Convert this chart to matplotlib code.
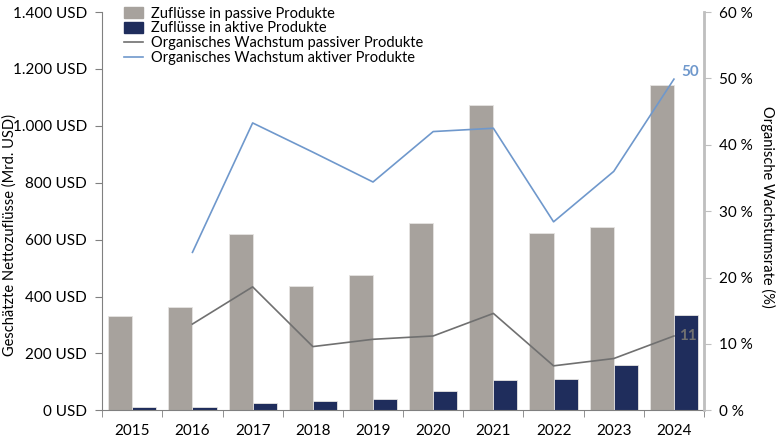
import numpy as np
import matplotlib.pyplot as plt
from matplotlib.patches import Patch
from matplotlib.lines import Line2D
from matplotlib.ticker import FuncFormatter

plt.rcParams['font.family'] = ['Lato', 'DejaVu Sans']

# data
years = ['2015', '2016', '2017', '2018', '2019', '2020', '2021', '2022', '2023', '2024']
passive_flows = [331, 363, 620, 436, 475, 657, 1075, 624, 644, 1143]
active_flows = [10, 10, 25, 33, 38, 69, 105, 110, 160, 335]
passive_growth = [np.nan, 13.0, 18.6, 9.6, 10.7, 11.2, 14.6, 6.7, 7.8, 11.2]
active_growth = [np.nan, 23.8, 43.3, 38.9, 34.4, 42.0, 42.5, 28.4, 36.0, 49.9]

c_passive = '#a7a29d'
c_active = '#1f2d5c'
c_pline = '#707070'
c_aline = '#6f98cc'

fig = plt.figure(figsize=(7.8, 4.4), dpi=100)
ax = fig.add_axes([0.131, 0.0675, 0.7716, 0.905])
ax2 = ax.twinx()

x = np.arange(len(years))
w = 0.4
ax.bar(x - w/2, passive_flows, w, color=c_passive, edgecolor='#e6e4e2', linewidth=0.6, zorder=2)
ax.bar(x + w/2, active_flows, w, color=c_active, edgecolor='#e6e4e2', linewidth=0.6, zorder=2)
ax.set_xlim(-0.5, len(years) - 0.5)
ax.set_ylim(0, 1400)
ax.set_yticks(np.arange(0, 1401, 200))
ax.yaxis.set_major_formatter(FuncFormatter(lambda v, p: f'{int(v):,} USD'.replace(',', '.')))
ax.set_xticks(x)
ax.set_xticklabels(years)
ax.set_xticks(np.arange(-0.5, len(years)), minor=True)
ax.tick_params(axis='x', which='major', length=0, pad=10, labelsize=11)
ax.tick_params(axis='x', which='minor', length=5, color='#808080')
ax.tick_params(axis='y', length=5, color='#808080', labelsize=11, pad=6)
ax.set_ylabel('Geschätzte Nettozuflüsse (Mrd. USD)', fontsize=10.5)
ax.yaxis.set_label_coords(-0.142, 0.44)

ax2.plot(x, passive_growth, color=c_pline, lw=1.2, zorder=3)
ax2.plot(x, active_growth, color=c_aline, lw=1.2, zorder=3)
ax2.set_ylim(0, 60)
ax2.set_yticks(np.arange(0, 61, 10))
ax2.yaxis.set_major_formatter(FuncFormatter(lambda v, p: f'{int(v)} %'))
ax2.tick_params(axis='y', length=5, color='#bfbfbf', labelsize=11, pad=6)
ax2.set_ylabel('Organische Wachstumsrate (%)', fontsize=10.5, rotation=270, va='center')
ax2.yaxis.set_label_coords(1.106, 0.51)

ax2.annotate(f'{active_growth[-1]:.0f}', (x[-1], active_growth[-1]), xytext=(5, 0),
             textcoords='offset points', color=c_aline, fontweight='bold', fontsize=11,
             va='bottom', ha='left')
ax2.annotate(f'{passive_growth[-1]:.0f}', (x[-1], passive_growth[-1]), xytext=(4, 0),
             textcoords='offset points', color=c_pline, fontweight='bold', fontsize=11,
             va='center', ha='left')

for a in (ax, ax2):
    a.spines['top'].set_visible(False)
ax.spines['left'].set_color('#808080')
ax.spines['bottom'].set_color('#808080')
ax2.spines['left'].set_visible(False)
ax2.spines['bottom'].set_visible(False)
ax2.spines['right'].set_color('#bfbfbf')
ax2.spines['right'].set_linewidth(2)

handles = [Patch(color=c_passive), Patch(color=c_active),
           Line2D([], [], color=c_pline, lw=1.2), Line2D([], [], color=c_aline, lw=1.2)]
labels = ['Zuflüsse in passive Produkte', 'Zuflüsse in aktive Produkte',
          'Organisches Wachstum passiver Produkte', 'Organisches Wachstum aktiver Produkte']
ax.legend(handles, labels, loc='upper left', bbox_to_anchor=(0.152, 0.998),
          bbox_transform=fig.transFigure, frameon=False, fontsize=10.5,
          handlelength=1.3, handleheight=0.8, handletextpad=0.5, labelspacing=0.05,
          borderaxespad=0)

fig.savefig('out.png', dpi=100)
